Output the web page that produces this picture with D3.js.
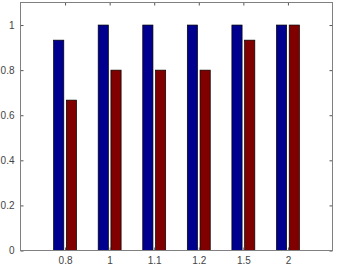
<!DOCTYPE html>
<html>
<head>
<meta charset="utf-8">
<script src="https://cdn.jsdelivr.net/npm/d3@7"></script>
<style>
  html, body { margin: 0; padding: 0; background: #fff; }
  text { font-family: "Liberation Sans", Arial, sans-serif; }
</style>
</head>
<body>
<script>
// values
var categories = ['0.8', '1', '1.1', '1.2', '1.5', '2'];
var seriesBlue = [0.933, 1, 1, 1, 1, 1];
var seriesRed = [0.667, 0.8, 0.8, 0.8, 0.933, 1];
var yTicks = [0, 0.2, 0.4, 0.6, 0.8, 1];

var W = 338, H = 265;
// note: "top" is a read-only global in browsers, so use other names
var axL = 20.5, axR = 332.5, axT = 2.5, axB = 250.5;

var svg = d3.select('body').append('svg')
    .attr('width', W)
    .attr('height', H);

var x = d3.scaleLinear().domain([0, 7]).range([axL, axR]);
var y = d3.scaleLinear().domain([0, 1.1]).range([axB, axT]);

// matlab style grouped bars: offset +-1/7 and width 0.2286 of a unit
var offs = 0.1429, bw = 0.2286;
var series = [
    { vals: seriesBlue, off: -offs, color: '#00008f' },
    { vals: seriesRed, off: offs, color: '#800000' }
];

series.forEach(function (s) {
    svg.append('g').selectAll('rect')
        .data(s.vals)
        .enter().append('rect')
        .attr('x', function (d, i) { return x(i + 1 + s.off - bw / 2); })
        .attr('width', function () { return x(bw) - x(0); })
        .attr('y', function (d) { return y(d); })
        .attr('height', function (d) { return y(0) - y(d); })
        .attr('fill', s.color)
        .attr('stroke', '#000')
        .attr('stroke-width', 0.7);
});

var tickPos = categories.map(function (c, i) { return i + 1; });

svg.append('g')
    .attr('transform', 'translate(0,' + axB + ')')
    .call(d3.axisBottom(x).tickValues(tickPos)
        .tickFormat(function (d, i) { return categories[i]; })
        .tickSizeInner(-3).tickSizeOuter(0).tickPadding(6));

svg.append('g')
    .attr('transform', 'translate(' + axL + ',0)')
    .call(d3.axisLeft(y).tickValues(yTicks)
        .tickFormat(d3.format('~g'))
        .tickSizeInner(-3).tickSizeOuter(0).tickPadding(6));

svg.append('g')
    .attr('transform', 'translate(0,' + axT + ')')
    .call(d3.axisTop(x).tickValues(tickPos).tickFormat('')
        .tickSizeInner(-3).tickSizeOuter(0));

svg.append('g')
    .attr('transform', 'translate(' + axR + ',0)')
    .call(d3.axisRight(y).tickValues(yTicks).tickFormat('')
        .tickSizeInner(-3).tickSizeOuter(0));

svg.selectAll('.domain').remove();
svg.selectAll('.tick line').attr('stroke', '#555');
svg.selectAll('.tick text')
    .attr('fill', '#444')
    .style('font-size', '10px');

// axes box
svg.append('rect')
    .attr('x', axL).attr('y', axT)
    .attr('width', axR - axL).attr('height', axB - axT)
    .attr('fill', 'none')
    .attr('stroke', '#808080')
    .attr('stroke-width', 1);
</script>
</body>
</html>
